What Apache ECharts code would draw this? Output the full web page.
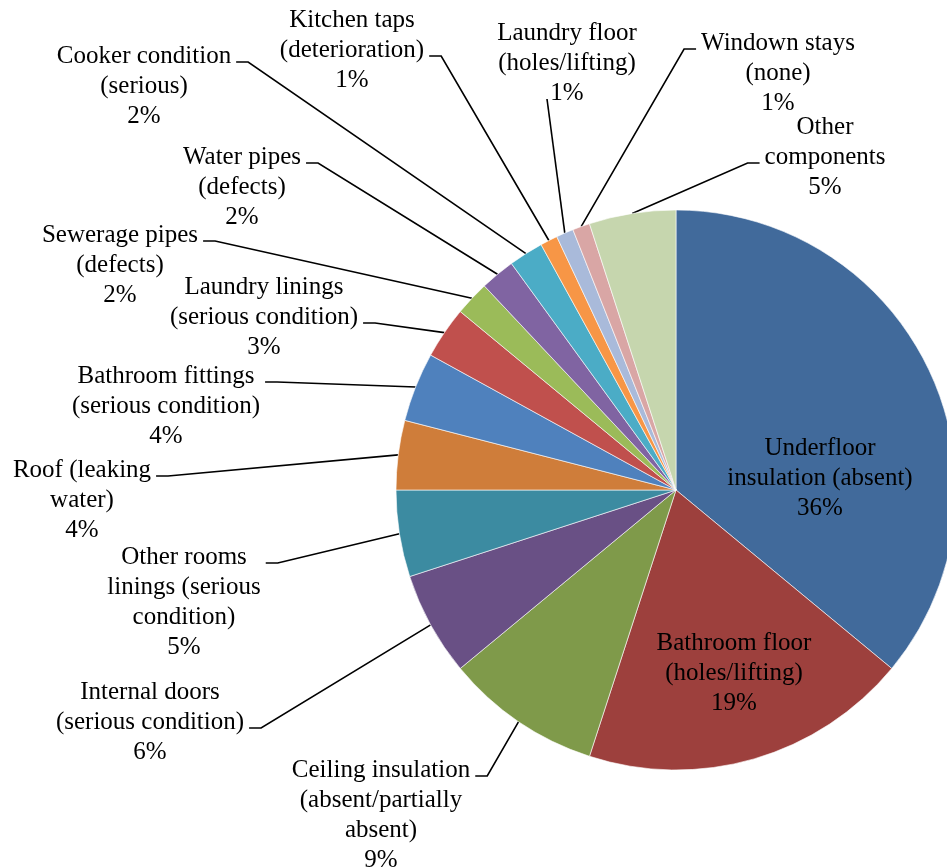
<!DOCTYPE html>
<html>
<head>
<meta charset="utf-8">
<script src="https://cdn.jsdelivr.net/npm/echarts@6/dist/echarts.min.js"></script>
<style>
  html, body { margin: 0; padding: 0; background: #fff; }
  #chart { width: 947px; height: 868px; }
</style>
</head>
<body>
<div id="chart"></div>
<script>
// Housing component defects, share of all defects (clockwise from 12 o'clock)
const categories = [
  'Underfloor\ninsulation (absent)',
  'Bathroom floor\n(holes/lifting)',
  'Ceiling insulation\n(absent/partially\nabsent)',
  'Internal doors\n(serious condition)',
  'Other rooms\nlinings (serious\ncondition)',
  'Roof (leaking\nwater)',
  'Bathroom fittings\n(serious condition)',
  'Laundry linings\n(serious condition)',
  'Sewerage pipes\n(defects)',
  'Water pipes\n(defects)',
  'Cooker condition\n(serious)',
  'Kitchen taps\n(deterioration)',
  'Laundry floor\n(holes/lifting)',
  'Windown stays\n(none)',
  'Other\ncomponents'
];
const values = [36, 19, 9, 6, 5, 4, 4, 3, 2, 2, 2, 1, 1, 1, 5];
const colors = [
  '#416A9B', '#9D403D', '#7F9A4A', '#695085', '#3C8BA1',
  '#CF7D3A', '#4F81BD', '#C0504D', '#9BBB59', '#8064A2',
  '#4BACC6', '#F79646', '#A9BADA', '#D9A6A5', '#C6D6AE'
];

// Label placement: [centre x, first-line centre y, side the leader meets, line it meets]
const labelPlacement = [
  [820, 448, 'none', 0],
  [734, 643, 'none', 0],
  [381, 770, 'right', 0],
  [150, 692, 'right', 1],
  [184, 557, 'right', 0],
  [82, 470, 'right', 0],
  [166, 376, 'right', 0],
  [264, 287, 'right', 1],
  [120, 235, 'right', 0],
  [242, 157, 'right', 0],
  [144, 56, 'right', 0],
  [352, 20, 'right', 1],
  [567, 33, 'under', 2],
  [778, 43, 'left', 0],
  [825, 127, 'left', 1]
];

const FONT_SIZE = 25;
const LINE_H = 30;

const chart = echarts.init(document.getElementById('chart'), null, { renderer: 'canvas' });

chart.setOption({
  animation: false,
  backgroundColor: '#ffffff',
  series: [{
    type: 'pie',
    center: [676, 490],
    radius: 280,
    startAngle: 90,
    clockwise: true,
    avoidLabelOverlap: false,
    percentPrecision: 0,
    itemStyle: { borderColor: '#ffffff', borderWidth: 0.6 },
    emphasis: { disabled: true },
    label: {
      show: true,
      position: 'outside',
      formatter: '{b}\n{d}%',
      color: '#000',
      fontFamily: '"Liberation Serif", "DejaVu Serif", serif',
      fontSize: FONT_SIZE,
      lineHeight: LINE_H,
      align: 'center'
    },
    labelLine: {
      show: true,
      length: 10,
      length2: 10,
      smooth: false,
      lineStyle: { color: '#000', width: 1.6 }
    },
    labelLayout: function (p) {
      const [cx, fy, side, line] = labelPlacement[p.dataIndex];
      const w = p.labelRect.width;
      const h = p.labelRect.height;
      const top = fy - LINE_H / 2;
      const out = { x: cx, y: top + h / 2, align: 'center', verticalAlign: 'middle' };
      if (side === 'none' || !p.labelLinePoints) return out;
      const anchor = p.labelLinePoints[0];
      const ly = top + LINE_H * (line + 0.5) + 6;
      let end, knee;
      if (side === 'right') {
        end = [cx + w / 2 + 5, ly];
        knee = [end[0] + 12, ly];
      } else if (side === 'left') {
        end = [cx - w / 2 - 5, ly];
        knee = [end[0] - 12, ly];
      } else {
        end = [cx - 20, ly];
        knee = end;
      }
      out.labelLinePoints = [anchor, knee, end];
      return out;
    },
    data: categories.map((name, i) => ({
      name: name,
      value: values[i],
      itemStyle: { color: colors[i] },
      label: i < 2 ? { position: 'inside' } : undefined,
      labelLine: i < 2 ? { show: false } : undefined
    }))
  }]
});
</script>
</body>
</html>
